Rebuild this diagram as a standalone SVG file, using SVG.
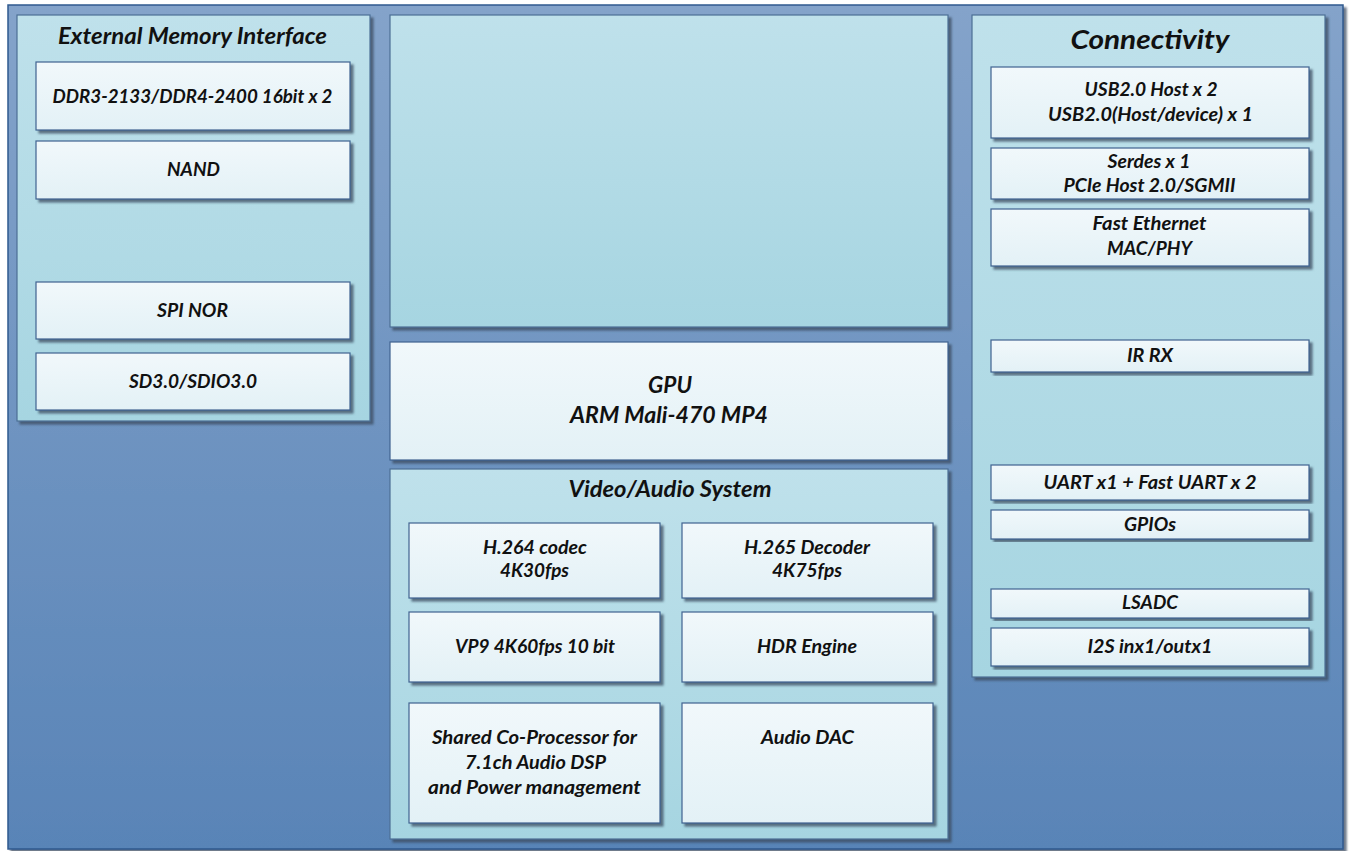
<svg xmlns="http://www.w3.org/2000/svg" width="1350" height="851" viewBox="0 0 1350 851">
<defs>
<linearGradient id="bg" x1="0" y1="0" x2="0" y2="1"><stop offset="0" stop-color="#84a3ca"/><stop offset="1" stop-color="#5984b7"/></linearGradient>
<linearGradient id="panel" x1="0" y1="0" x2="0" y2="1"><stop offset="0" stop-color="#bfe1eb"/><stop offset="1" stop-color="#a6d5e1"/></linearGradient>
<linearGradient id="box" x1="0" y1="0" x2="0" y2="1"><stop offset="0" stop-color="#f1f8fb"/><stop offset="1" stop-color="#e3f1f6"/></linearGradient>
<filter id="sh" x="-5%" y="-5%" width="110%" height="115%"><feDropShadow dx="3" dy="3" stdDeviation="0.8" flood-color="#3a4a5e" flood-opacity="0.75"/></filter>
<style>
.panel{fill:url(#panel);stroke:#4b6f95;stroke-width:1.2;filter:url(#sh)}
.box{fill:url(#box);stroke:#3f6290;stroke-width:1.2;filter:url(#sh)}
text{font-family:Lato,"Open Sans","Liberation Sans",sans-serif;font-weight:bold;font-style:italic;fill:#111;text-anchor:middle}
.t{font-size:19px}
.h{font-size:22px}
.hc{font-size:27px}
</style>
</defs>
<rect x="0" y="0" width="1350" height="851" fill="#ffffff"/>
<g id="background">
<rect x="8" y="5" width="1335" height="844" fill="url(#bg)" stroke="#2f5a8e" stroke-width="1.5" filter="url(#sh)"/>
</g>
<g id="ext-mem">
<rect class="panel" x="17" y="15" width="353" height="406"/>
<text class="h" x="192.5" y="44" textLength="269" lengthAdjust="spacingAndGlyphs">External Memory Interface</text>
</g>
<g id="ddr"><rect class="box" x="36" y="62" width="314" height="68"/><text class="t" x="192.5" y="103" textLength="280" lengthAdjust="spacingAndGlyphs">DDR3-2133/DDR4-2400 16bit x 2</text></g>
<g id="nand"><rect class="box" x="36" y="141" width="314" height="58"/><text class="t" x="193.5" y="176" textLength="53" lengthAdjust="spacingAndGlyphs">NAND</text></g>
<g id="spi-nor"><rect class="box" x="36" y="282" width="314" height="57"/><text class="t" x="192.5" y="317" textLength="71" lengthAdjust="spacingAndGlyphs">SPI NOR</text></g>
<g id="sd"><rect class="box" x="36" y="353" width="314" height="57"/><text class="t" x="193" y="388" textLength="128" lengthAdjust="spacingAndGlyphs">SD3.0/SDIO3.0</text></g>

<g id="cpu-area"><rect class="panel" x="390" y="15" width="558" height="312"/></g>
<g id="gpu"><rect class="box" x="390" y="342" width="558" height="118"/>
<text class="h" x="670" y="393" textLength="44" lengthAdjust="spacingAndGlyphs">GPU</text><text class="h" x="669" y="423" textLength="198" lengthAdjust="spacingAndGlyphs">ARM Mali-470 MP4</text></g>

<g id="video-audio"><rect class="panel" x="390" y="469" width="558" height="370"/>
<text class="h" x="670" y="497" textLength="203" lengthAdjust="spacingAndGlyphs">Video/Audio System</text></g>
<g id="h264"><rect class="box" x="409" y="523" width="251" height="75"/><text class="t" x="535" y="554" textLength="104" lengthAdjust="spacingAndGlyphs">H.264 codec</text><text class="t" x="534.5" y="577" textLength="69" lengthAdjust="spacingAndGlyphs">4K30fps</text></g>
<g id="h265"><rect class="box" x="682" y="523" width="251" height="75"/><text class="t" x="807" y="554" textLength="126" lengthAdjust="spacingAndGlyphs">H.265 Decoder</text><text class="t" x="807" y="577" textLength="70" lengthAdjust="spacingAndGlyphs">4K75fps</text></g>
<g id="vp9"><rect class="box" x="409" y="612" width="251" height="70"/><text class="t" x="535" y="653" textLength="160" lengthAdjust="spacingAndGlyphs">VP9 4K60fps 10 bit</text></g>
<g id="hdr"><rect class="box" x="682" y="612" width="251" height="70"/><text class="t" x="807" y="653" textLength="100" lengthAdjust="spacingAndGlyphs">HDR Engine</text></g>
<g id="coproc"><rect class="box" x="409" y="703" width="251" height="120"/><text class="t" x="534.5" y="744" textLength="205" lengthAdjust="spacingAndGlyphs">Shared Co-Processor for</text><text class="t" x="535.5" y="769" textLength="141" lengthAdjust="spacingAndGlyphs">7.1ch Audio DSP</text><text class="t" x="534.5" y="794" textLength="213" lengthAdjust="spacingAndGlyphs">and Power management</text></g>
<g id="audio-dac"><rect class="box" x="682" y="703" width="251" height="120"/><text class="t" x="807.5" y="744" textLength="93" lengthAdjust="spacingAndGlyphs">Audio DAC</text></g>

<g id="connectivity"><rect class="panel" x="972" y="15" width="353" height="662"/>
<text class="hc" x="1150" y="49" textLength="159" lengthAdjust="spacingAndGlyphs">Connectivity</text></g>
<g id="usb"><rect class="box" x="991" y="67" width="318" height="71"/><text class="t" x="1151" y="96" textLength="133" lengthAdjust="spacingAndGlyphs">USB2.0 Host x 2</text><text class="t" x="1150.5" y="121" textLength="205" lengthAdjust="spacingAndGlyphs">USB2.0(Host/device) x 1</text></g>
<g id="serdes"><rect class="box" x="991" y="148" width="318" height="51"/><text class="t" x="1149" y="168" textLength="83" lengthAdjust="spacingAndGlyphs">Serdes x 1</text><text class="t" x="1149.5" y="192" textLength="172" lengthAdjust="spacingAndGlyphs">PCIe Host 2.0/SGMII</text></g>
<g id="ethernet"><rect class="box" x="991" y="209" width="318" height="57"/><text class="t" x="1149.5" y="230" textLength="114" lengthAdjust="spacingAndGlyphs">Fast Ethernet</text><text class="t" x="1149.5" y="255" textLength="85" lengthAdjust="spacingAndGlyphs">MAC/PHY</text></g>
<g id="ir-rx"><rect class="box" x="991" y="340" width="318" height="32"/><text class="t" x="1150" y="362" textLength="46" lengthAdjust="spacingAndGlyphs">IR RX</text></g>
<g id="uart"><rect class="box" x="991" y="465" width="318" height="35"/><text class="t" x="1150" y="489" textLength="213" lengthAdjust="spacingAndGlyphs">UART x1 + Fast UART x 2</text></g>
<g id="gpios"><rect class="box" x="991" y="510" width="318" height="29"/><text class="t" x="1150" y="531" textLength="52" lengthAdjust="spacingAndGlyphs">GPIOs</text></g>
<g id="lsadc"><rect class="box" x="991" y="589" width="318" height="29"/><text class="t" x="1150" y="609" textLength="56" lengthAdjust="spacingAndGlyphs">LSADC</text></g>
<g id="i2s"><rect class="box" x="991" y="628" width="318" height="38"/><text class="t" x="1150" y="653" textLength="125" lengthAdjust="spacingAndGlyphs">I2S inx1/outx1</text></g>
<g id="connectors"></g>
</svg>
